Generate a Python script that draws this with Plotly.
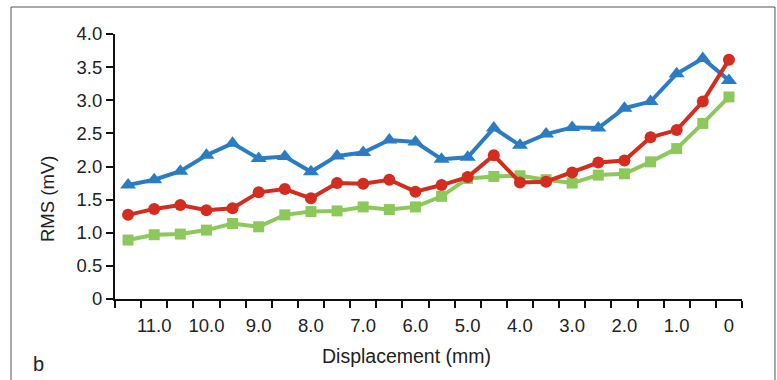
import plotly.graph_objects as go

# ---- data ----
displacement = [11.5, 11.0, 10.5, 10.0, 9.5, 9.0, 8.5, 8.0, 7.5, 7.0, 6.5, 6.0,
                5.5, 5.0, 4.5, 4.0, 3.5, 3.0, 2.5, 2.0, 1.5, 1.0, 0.5, 0.0]
rms_blue = [1.72, 1.80, 1.93, 2.17, 2.35, 2.12, 2.15, 1.92, 2.16, 2.21, 2.40, 2.37,
            2.11, 2.14, 2.58, 2.32, 2.49, 2.59, 2.58, 2.88, 2.98, 3.40, 3.63, 3.30]
rms_red = [1.27, 1.36, 1.42, 1.34, 1.37, 1.61, 1.66, 1.52, 1.75, 1.74, 1.80, 1.62,
           1.72, 1.84, 2.17, 1.76, 1.77, 1.91, 2.06, 2.09, 2.44, 2.55, 2.98, 3.61]
rms_green = [0.89, 0.97, 0.98, 1.04, 1.14, 1.09, 1.27, 1.32, 1.33, 1.39, 1.35, 1.39,
             1.55, 1.82, 1.85, 1.86, 1.80, 1.75, 1.87, 1.89, 2.07, 2.27, 2.65, 3.05]
x_tickvals = [11, 10, 9, 8, 7, 6, 5, 4, 3, 2, 1, 0]
x_ticktext = ["11.0", "10.0", "9.0", "8.0", "7.0", "6.0", "5.0", "4.0", "3.0", "2.0", "1.0", "0"]
y_tickvals = [0, 0.5, 1.0, 1.5, 2.0, 2.5, 3.0, 3.5, 4.0]
y_ticktext = ["0", "0.5", "1.0", "1.5", "2.0", "2.5", "3.0", "3.5", "4.0"]

W, H = 777, 380
L, R, T, B = 115, 35, 34, 81
FONT = "Liberation Sans, Arial, sans-serif"
FS = 18.5

def px(xp):
    return (xp - L) / (W - L - R)

def py(yp):
    return (H - B - yp) / (H - T - B)

fig = go.Figure()
fig.add_trace(go.Scatter(x=displacement, y=rms_green, mode="lines+markers",
                         line=dict(color="#8cc85a", width=4),
                         marker=dict(symbol="square", size=11, color="#8cc85a")))
fig.add_trace(go.Scatter(x=displacement, y=rms_blue, mode="lines+markers",
                         line=dict(color="#2a7dc4", width=4),
                         marker=dict(symbol="triangle-up", size=14, color="#2a7dc4")))
fig.add_trace(go.Scatter(x=displacement, y=rms_red, mode="lines+markers",
                         line=dict(color="#d42c1f", width=4),
                         marker=dict(symbol="circle", size=12, color="#d42c1f")))

fig.update_layout(
    width=W, height=H,
    margin=dict(l=L, r=R, t=T, b=B),
    paper_bgcolor="white", plot_bgcolor="white",
    showlegend=False,
    font=dict(family=FONT, size=FS, color="#222"),
    xaxis=dict(range=[11.75, -0.25], tickmode="array", tickvals=x_tickvals,
               ticktext=x_ticktext, ticks="", showgrid=False, zeroline=False,
               showline=True, linecolor="#111", linewidth=2,
               ticklabelstandoff=9,
               minor=dict(ticks="outside", ticklen=7, tickwidth=2, tickcolor="#111",
                          tick0=0.25, dtick=0.5, showgrid=False)),
    yaxis=dict(range=[0, 4], tickmode="array", tickvals=y_tickvals, ticktext=y_ticktext,
               ticks="outside", ticklen=7, tickwidth=2, tickcolor="#111",
               showgrid=False, zeroline=False, showline=True, linecolor="#111",
               linewidth=2),
    shapes=[dict(type="rect", xref="paper", yref="paper",
                 x0=px(11), x1=px(775), y0=py(390), y1=py(7),
                 line=dict(color="#555", width=1), fillcolor="rgba(0,0,0,0)", layer="below")],
    annotations=[
        dict(text="RMS (mV)", textangle=-90, x=px(47), y=py(199), xref="paper", yref="paper",
             xanchor="center", yanchor="middle",
             showarrow=False, font=dict(size=FS, family=FONT, color="#222")),
        dict(text="Displacement (mm)", x=px(406), y=py(356), xref="paper", yref="paper",
             xanchor="center", yanchor="middle",
             showarrow=False, font=dict(size=19.5, family=FONT, color="#222")),
        dict(text="b", x=px(38), y=py(364), xref="paper", yref="paper",
             xanchor="center", yanchor="middle",
             showarrow=False, font=dict(size=20, family=FONT, color="#222")),
    ],
)

fig.write_html("out.html")
